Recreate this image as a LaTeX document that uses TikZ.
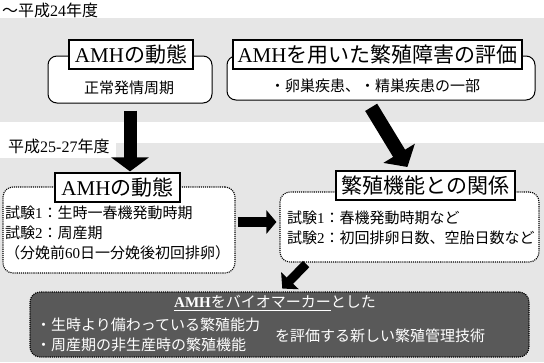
\documentclass[tikz,border=0pt]{standalone}
\usepackage{fontspec}
\setmainfont{Noto Sans CJK JP}
\newfontfamily\lat{Liberation Serif}
\usetikzlibrary{arrows.meta}

\definecolor{bandgray}{HTML}{E6E6E6}
\definecolor{darkbox}{HTML}{595959}

\tikzset{
  titlebox/.style={draw, fill=white, line width=1.2pt, inner sep=1pt,
    minimum height=29pt, font=\fontsize{21}{24}\selectfont},
  solidbox/.style={draw, fill=white, line width=1pt, rounded corners=9pt},
  dotbox/.style={draw, fill=white, line width=1.1pt, densely dotted, rounded corners=10pt},
  bodytext/.style={font=\fontsize{15}{20}\selectfont, inner sep=0pt},
  yeartext/.style={font=\fontsize{16}{19}\selectfont, inner sep=0pt, anchor=west},
  bigarrow/.style={line width=13pt, -{Triangle[width=37pt,length=14pt]}},
}

\begin{document}
\begin{tikzpicture}[x=1pt, y=-1pt]
  \useasboundingbox (0,0) rectangle (544,362);
  % background bands
  \fill[bandgray] (0,18) rectangle (544,122);
  \fill[bandgray] (0,143) rectangle (544,362);
  \fill[white] (0,122) rectangle (116,158);
  \node[yeartext] (yearA) at (2,10) {～平成{\lat 24}年度};
  \node[yeartext] (yearB) at (8,146) {平成{\lat 25-27}年度};
  % upper row
  \node[solidbox, minimum width=164pt, minimum height=47pt] (dynA) at (130,79.5) {};
  \node[titlebox, minimum width=124pt] (dynAt) at (131,54.5) {{\lat AMH}の動態};
  \node[bodytext] (dynAx) at (129,88) {正常発情周期};
  \node[solidbox, minimum width=308pt, minimum height=44pt] (evalA) at (381,78) {};
  \node[titlebox, minimum width=289pt] (evalAt) at (377.5,54.5) {{\lat AMH}を用いた繁殖障害の評価};
  \node[bodytext] (evalAx) at (375,86) {・卵巣疾患、・精巣疾患の一部};
  % middle row
  \node[dotbox, minimum width=232pt, minimum height=86pt] (trialA) at (119,230) {};
  \node[titlebox, minimum width=125pt] (trialAt) at (117.5,187.5) {{\lat AMH}の動態};
  \node[bodytext, align=left, anchor=west] (trialAx) at (5,233)
    {試験{\lat 1}：生時一春機発動時期\\試験{\lat 2}：周産期\\（分娩前{\lat 60}日一分娩後初回排卵）};
  \node[dotbox, minimum width=259pt, minimum height=70pt] (trialB) at (409.5,227) {};
  \node[titlebox, minimum width=179pt] (trialBt) at (425.5,185.5) {繁殖機能との関係};
  \node[bodytext, align=left, anchor=west] (trialBx) at (287,228)
    {試験{\lat 1}：春機発動時期など\\試験{\lat 2}：初回排卵日数、空胎日数など};
  % result
  \node[draw, fill=darkbox, line width=1.1pt, densely dotted, rounded corners=10pt,
    minimum width=499pt, minimum height=65pt] (bio) at (279.5,324.5) {};
  \node[bodytext, text=white] (bioT) at (275,303)
    {\underline{{\lat\bfseries AMH}をバイオマーカー}とした};
  \node[bodytext, text=white, align=left, anchor=west] (bioL) at (36,335)
    {・生時より備わっている繁殖能力\\・周産期の非生産時の繁殖機能};
  \node[bodytext, text=white, anchor=west] (bioR) at (275,336) {を評価する新しい繁殖管理技術};
  % arrows
  \draw[bigarrow, shorten <=7pt, shorten >=1pt] (dynA.south) -- (dynA.south |- trialAt.north);
  \draw[line width=14pt, -{Triangle[width=36pt,length=16pt]}, shorten <=8pt, shorten >=4pt]
    ([xshift=-14pt]evalA.south) -- ([xshift=-16pt]trialBt.north);
  \draw[line width=10pt, -{Triangle[width=23pt,length=10pt]}, shorten <=2pt, shorten >=3pt]
    ([yshift=8pt]trialA.east) -- ([yshift=8pt]trialA.east -| trialB.west);
  \draw[line width=9pt, -{Triangle[width=24pt,length=11pt]}, shorten <=2pt, shorten >=4pt]
    ([xshift=-102pt]trialB.south) -- (bio.north);
\end{tikzpicture}
\end{document}
